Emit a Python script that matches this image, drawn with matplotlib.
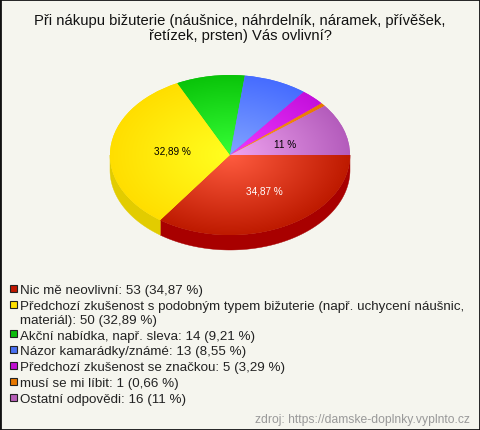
import numpy as np
import matplotlib
matplotlib.use("Agg")
import matplotlib.pyplot as plt
from matplotlib.colors import to_rgb
from matplotlib.patches import Rectangle, Polygon

plt.rcParams['font.family'] = ['Liberation Sans', 'DejaVu Sans']

title_lines = ["Při nákupu bižuterie (náušnice, náhrdelník, náramek, přívěšek,",
               "řetízek, prsten) Vás ovlivní?"]
values = [53, 50, 14, 13, 5, 1, 16]
percents = ["34,87", "32,89", "9,21", "8,55", "3,29", "0,66", "11"]
names = ["Nic mě neovlivní", "Předchozí zkušenost s podobným typem bižuterie (např. uchycení náušnic,\nmateriál)",
         "Akční nabídka, např. sleva", "Názor kamarádky/známé", "Předchozí zkušenost se značkou",
         "musí se mi líbit", "Ostatní odpovědi"]
centre_colors = ["#FF5C40", "#FFFF20", "#36FF36", "#82A4FF", "#F038FF", "#FF9A20", "#F0A4F0"]
rim_colors = ["#BE1A00", "#FFDE00", "#0AC40A", "#466CFF", "#C410DC", "#E87800", "#B45CBC"]
side_colors = ["#A80000", "#E2CC00", "#089008", "#3050C0", "#900AA0", "#B05800", "#884890"]
legend_colors = ["#C01800", "#FFE000", "#0CBC0C", "#4A70F0", "#C010D0", "#E87800", "#B860B8"]
source = "zdroj: https://damske-doplnky.vyplnto.cz"
BG = "#F5F5EE"

W, H = 480, 431
fig = plt.figure(figsize=(W/100, H/100), dpi=100, facecolor=BG)
def fx(x): return x / W
def fy(y): return 1 - y / H

fig.add_artist(Rectangle((0, 0), 1, 1, transform=fig.transFigure, fill=False, ec="#111111", lw=2.0))

cx, cy, rx, ry, depth = 230, 156, 120, 80, 15
ax = fig.add_axes([fx(cx-rx-10), fy(cy+ry+depth+10), (2*rx+20)/W, (2*ry+depth+20)/H])
ax.set_axis_off()
wedges, _ = ax.pie(values, colors=rim_colors, startangle=0, counterclock=False, radius=1,
                   wedgeprops=dict(linewidth=0))
ax.set_aspect('auto')

# side wall: the parts of the rim facing the viewer
d = depth / ry
for w, c in zip(wedges, side_colors):
    t1, t2 = w.theta1 % 360, w.theta2 % 360
    if t2 <= t1:
        t2 += 360
    a0, a1 = max(t1, 180), min(t2, 360)
    if a1 <= a0:
        continue
    t = np.radians(np.linspace(a0, a1, 120))
    xs, ys = np.cos(t), np.sin(t)
    ax.add_patch(Polygon(np.r_[np.c_[xs, ys], np.c_[xs, ys - d][::-1]], closed=True, fc=c, ec=c, lw=0.3, zorder=0.5))

# radial gradient on each top face
gx, gy = np.meshgrid(np.linspace(-1, 1, 400), np.linspace(-1, 1, 400))
r = np.clip(np.hypot(gx, gy), 0, 1)[..., None]
for w, c0, c1 in zip(wedges, centre_colors, rim_colors):
    img = np.array(to_rgb(c0)) * (1 - r) + np.array(to_rgb(c1)) * r
    im = ax.imshow(img, extent=(-1, 1, -1, 1), origin='lower', aspect='auto', zorder=2,
                   interpolation='bilinear')
    im.set_clip_path(w)
ax.set_xlim(-(rx+10)/rx, (rx+10)/rx)
ax.set_ylim(-(ry+depth+10)/ry, (ry+10)/ry)

fig.text(fx(264), fy(194.7), percents[0] + " %", color="white", fontsize=7.2, ha='center', va='baseline')
fig.text(fx(172.5), fy(154), percents[1] + " %", color="black", fontsize=7.2, ha='center', va='baseline')
fig.text(fx(285), fy(148.3), percents[6] + " %", color="black", fontsize=7.2, ha='center', va='baseline')

for line, y in zip(title_lines, (25, 40)):
    fig.text(fx(240), fy(y), line, fontsize=10.67, color="#111111", ha='center', va='baseline')

y = 290
for name, v, p, c in zip(names, values, percents, legend_colors):
    fig.add_artist(Rectangle((fx(9.5), fy(y+2.7)), 7/W, 7/H, transform=fig.transFigure, fc=c, ec="#222222", lw=0.8))
    lines = f"{name}: {v} ({p} %)".split("\n")
    for i, line in enumerate(lines):
        fig.text(fx(20), fy(y + 4 + i*14), line, fontsize=9.63, color="#222222", ha='left', va='baseline')
    y += 15.8 + 14 * (len(lines) - 1)

fig.text(fx(470), fy(422.7), source, fontsize=8.7, color="#999999", ha='right', va='baseline')

fig.savefig("out.png", dpi=100, facecolor=BG)
